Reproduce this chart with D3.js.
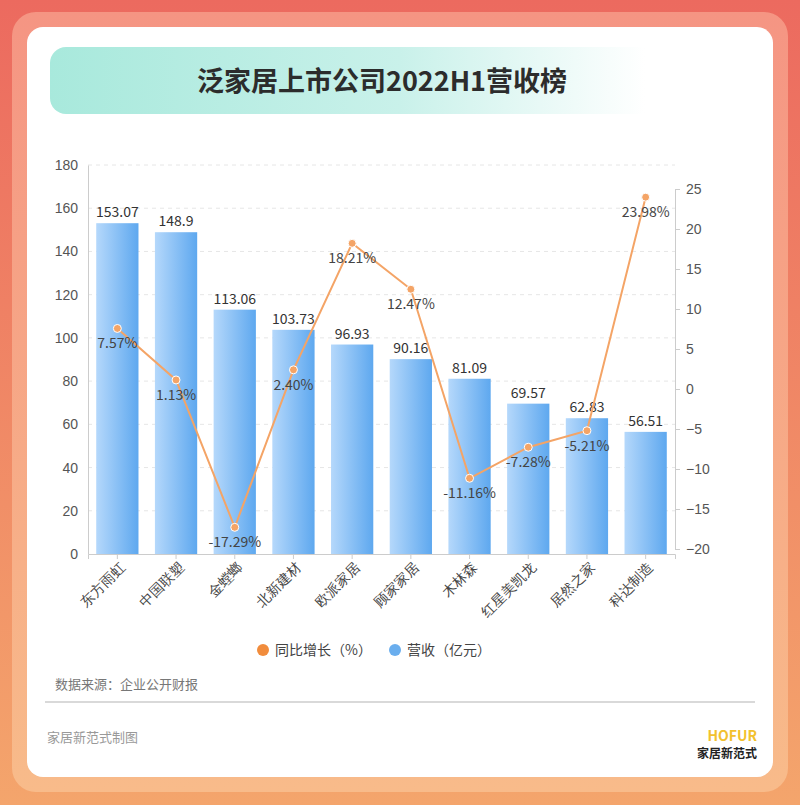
<!DOCTYPE html>
<html><head><meta charset="utf-8">
<script src="https://cdn.jsdelivr.net/npm/d3@7"></script>
<style>body{margin:0;}svg{display:block;font-family:"Noto Sans CJK SC","Noto Sans",sans-serif;}</style>
</head><body><div id="chart"></div>
<script>
var companies = ["东方雨虹","中国联塑","金螳螂","北新建材","欧派家居","顾家家居","木林森","红星美凯龙","居然之家","科达制造"];
var revenue = [153.07,148.9,113.06,103.73,96.93,90.16,81.09,69.57,62.83,56.51];
var growth = [7.57,1.13,-17.29,2.40,18.21,12.47,-11.16,-7.28,-5.21,23.98];
var leftTicks = [0,20,40,60,80,100,120,140,160,180];
var rightTicks = [-20,-15,-10,-5,0,5,10,15,20,25];

window.onload = function(){
  var svg = d3.select('#chart').append('svg').attr('width',800).attr('height',805),
      defs = svg.append('defs');

  var bg = defs.append('linearGradient').attr('id','bg').attr('x1',0).attr('y1',0).attr('x2',0).attr('y2',1);
  bg.append('stop').attr('offset','0%').attr('stop-color','#ec6a5f');
  bg.append('stop').attr('offset','100%').attr('stop-color','#f4a56c');
  var fr = defs.append('linearGradient').attr('id','fr').attr('x1',0).attr('y1',0).attr('x2',0).attr('y2',1);
  fr.append('stop').attr('offset','0%').attr('stop-color','#f59583');
  fr.append('stop').attr('offset','100%').attr('stop-color','#f8bb8a');
  var tb = defs.append('linearGradient').attr('id','tb');
  tb.append('stop').attr('offset','0%').attr('stop-color','#a8e9dc');
  tb.append('stop').attr('offset','50%').attr('stop-color','#c9f1ea');
  tb.append('stop').attr('offset','85%').attr('stop-color','#ffffff');
  var bar = defs.append('linearGradient').attr('id','bar');
  bar.append('stop').attr('offset','0%').attr('stop-color','#b5d8fb');
  bar.append('stop').attr('offset','100%').attr('stop-color','#5ea8ef');

  svg.append('rect').attr('width',800).attr('height',805).attr('fill','url(#bg)');
  svg.append('rect').attr('x',12).attr('y',12).attr('width',776).attr('height',780).attr('rx',24).attr('fill','url(#fr)');
  svg.append('rect').attr('x',27).attr('y',27).attr('width',746).attr('height',750).attr('rx',16).attr('fill','#fff');

  svg.append('rect').attr('x',50).attr('y',47).attr('width',700).attr('height',67).attr('rx',16).attr('fill','url(#tb)');
  svg.append('text').attr('x',382).attr('y',91).attr('text-anchor','middle').attr('font-size',27).attr('font-weight','bold').attr('fill','#2c2c2c').text('泛家居上市公司2022H1营收榜');

  var x = d3.scaleBand().domain(companies).range([88,675]).paddingInner(0.28).paddingOuter(0.14),
      yL = d3.scaleLinear().domain([0,180]).range([554,165]),
      yR = d3.scaleLinear().domain([-20,25]).range([549,189]);

  // grid
  svg.append('g').selectAll('line').data(leftTicks.slice(1)).join('line')
    .attr('x1',88).attr('x2',675).attr('y1',d=>yL(d)).attr('y2',d=>yL(d))
    .attr('stroke','#e6e6e6').attr('stroke-dasharray','4,4');

  var axL = svg.append('g').attr('transform','translate(88,0)').call(d3.axisLeft(yL).tickValues(leftTicks).tickSize(0).tickPadding(10));
  axL.select('.domain').attr('stroke','#ccc');
  axL.selectAll('text').attr('font-size',14).attr('fill','#555');
  var axR = svg.append('g').attr('transform','translate(675,0)').call(d3.axisRight(yR).tickValues(rightTicks).tickSize(5).tickPadding(6));
  axR.select('.domain').attr('stroke','#ccc');
  axR.selectAll('line').attr('stroke','#ccc');
  axR.selectAll('text').attr('font-size',14).attr('fill','#555');

  var axB = svg.append('g').attr('transform','translate(0,554)').call(d3.axisBottom(x).tickSize(5));
  axB.select('.domain').attr('stroke','#ccc');
  axB.selectAll('line').attr('stroke','#ccc');
  axB.selectAll('text').attr('font-size',14).attr('fill','#444')
    .attr('text-anchor','end').attr('transform','rotate(-45)').attr('dx','-0.3em').attr('dy','0.6em');

  svg.append('g').selectAll('rect').data(revenue).join('rect')
    .attr('x',(d,i)=>x(companies[i])).attr('width',x.bandwidth())
    .attr('y',d=>yL(d)).attr('height',d=>yL(0)-yL(d)).attr('fill','url(#bar)');
  svg.append('g').selectAll('text').data(revenue).join('text')
    .attr('x',(d,i)=>x(companies[i])+x.bandwidth()/2).attr('y',d=>yL(d)-6)
    .attr('text-anchor','middle').attr('font-size',14).attr('fill','#333').text(d=>d);

  var cx = (d,i)=>x(companies[i])+x.bandwidth()/2;
  svg.append('path').datum(growth)
    .attr('d',d3.line().x(cx).y(d=>yR(d)))
    .attr('fill','none').attr('stroke','#f4a466').attr('stroke-width',2);
  svg.append('g').selectAll('circle').data(growth).join('circle')
    .attr('cx',cx).attr('cy',d=>yR(d)).attr('r',4).attr('fill','#f4a466').attr('stroke','#fff').attr('stroke-width',1);
  svg.append('g').selectAll('text').data(growth).join('text')
    .attr('x',cx).attr('y',d=>yR(d)+20)
    .attr('text-anchor','middle').attr('font-size',14).attr('fill','#444').text(d=>d.toFixed(2)+'%');

  // legend
  svg.append('circle').attr('cx',263).attr('cy',650).attr('r',6).attr('fill','#f18c3c');
  svg.append('text').attr('x',275).attr('y',655).attr('font-size',14).attr('fill','#444').text('同比增长（%）');
  svg.append('circle').attr('cx',395).attr('cy',650).attr('r',6).attr('fill','#6aaeee');
  svg.append('text').attr('x',407).attr('y',655).attr('font-size',14).attr('fill','#444').text('营收（亿元）');

  svg.append('text').attr('x',55).attr('y',689).attr('font-size',13).attr('fill','#777').text('数据来源：企业公开财报');
  svg.append('line').attr('x1',45).attr('x2',755).attr('y1',702).attr('y2',702).attr('stroke','#ccc').attr('stroke-width',1.5);
  svg.append('text').attr('x',47).attr('y',742).attr('font-size',13).attr('fill','#999').text('家居新范式制图');
  svg.append('text').attr('x',757).attr('y',741).attr('text-anchor','end').attr('font-size',14).attr('font-weight','bold').attr('fill','#f2c12e').text('HOFUR');
  svg.append('text').attr('x',757).attr('y',758).attr('text-anchor','end').attr('font-size',12).attr('font-weight','bold').attr('fill','#222').text('家居新范式');
};
</script></body></html>
